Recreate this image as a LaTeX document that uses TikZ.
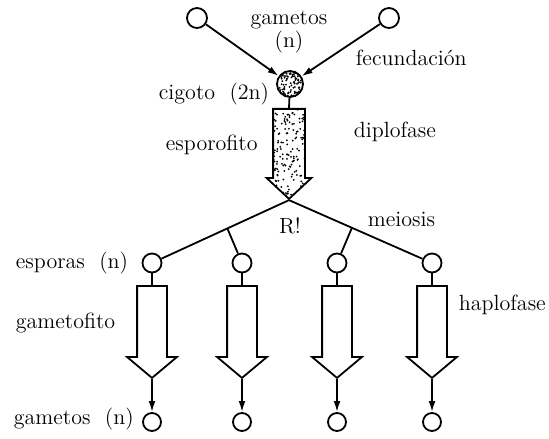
\documentclass[tikz,border=0pt]{standalone}
\usetikzlibrary{arrows.meta,shapes.arrows,calc}

\begin{document}
\begin{tikzpicture}[x=0.5pt,y=-0.5pt, line width=0.9pt,
    >={Latex[length=5.5pt,width=3.4pt]},
    txt/.style={font=\fontsize{11}{13}\selectfont, inner sep=0pt},
    cell/.style={draw, circle, fill=white, minimum size=9.5pt, inner sep=0pt},
    stipple/.style={path picture={
        \foreach \k in {1,...,#1}{
          \pgfmathsetmacro\rx{rnd}\pgfmathsetmacro\ry{rnd}
          \fill[black] let \p1=(path picture bounding box.south west),
                    \p2=(path picture bounding box.north east) in
            ({\x1+\rx*(\x2-\x1)},{\y1+\ry*(\y2-\y1)}) circle (0.5pt);
        }}},
    sporoarrow/.style={draw, fill=white, single arrow, shape border rotate=270, anchor=tail,
        inner sep=7.5pt, minimum height=45pt, single arrow head extend=3.25pt, single arrow tip angle=94},
    gametoarrow/.style={draw, fill=white, single arrow, shape border rotate=270, anchor=tail,
        inner sep=7pt, minimum height=46pt, single arrow head extend=5pt, single arrow tip angle=100}]
    \pgfmathsetseed{17}
    \useasboundingbox (0,0) rectangle (549,438);

    % diploid part
    \node[cell, minimum size=10pt] (gametoL) at (197,18) {};
    \node[cell, minimum size=10pt] (gametoR) at (389,18) {};
    \node[cell, minimum size=13pt, stipple=130] (zygote) at (290,84) {};
    \node[sporoarrow, stipple=210] (sporo) at (289,108) {};

    \draw[->] (gametoL) -- (zygote);
    \draw[->] (gametoR) -- (zygote);
    \draw (zygote) -- (sporo.tail);

    % spores
    \node[cell] (spore1) at (152,263) {};
    \node[cell] (spore2) at (242,263) {};
    \node[cell] (spore3) at (337,263) {};
    \node[cell] (spore4) at (432,263) {};

    \coordinate (fork2) at ($(sporo.tip)!0.45!(spore1.center)$);
    \coordinate (fork3) at ($(sporo.tip)!0.44!(spore4.center)$);
    \draw (sporo.tip) -- (spore1);
    \draw (sporo.tip) -- (spore4);
    \draw (fork2) -- (spore2);
    \draw (fork3) -- (spore3);

    % haploid part
    \node[gametoarrow] (gameto1) at (152,285) {};
    \node[gametoarrow] (gameto2) at (242,285) {};
    \node[gametoarrow] (gameto3) at (337,285) {};
    \node[gametoarrow] (gameto4) at (432,285) {};

    \node[cell, minimum size=9pt] (gamete1) at (152,422) {};
    \node[cell, minimum size=9pt] (gamete2) at (242,422) {};
    \node[cell, minimum size=9pt] (gamete3) at (337,422) {};
    \node[cell, minimum size=9pt] (gamete4) at (432,422) {};

    \draw (spore1) -- (gameto1.tail);
    \draw (spore2) -- (gameto2.tail);
    \draw (spore3) -- (gameto3.tail);
    \draw (spore4) -- (gameto4.tail);
    \draw[->] (gameto1.tip) -- (gamete1);
    \draw[->] (gameto2.tip) -- (gamete2);
    \draw[->] (gameto3.tip) -- (gamete3);
    \draw[->] (gameto4.tip) -- (gamete4);

    % labels
    \node[txt, align=center] (lgam) at (289,32) {gametos\\[-2pt](n)};
    \node[txt, anchor=west] (lfec) at (355,58) {fecundación};
    \node[txt, anchor=west] (lcig) at (158,94) {cigoto~~(2n)};
    \node[txt, anchor=west] (ldip) at (353,132) {diplofase};
    \node[txt, anchor=west] (lspo) at (165,145) {esporofito};
    \node[txt] (lr) at (290,226) {R!};
    \node[txt, anchor=west] (lmei) at (367,219) {meiosis};
    \node[txt, anchor=west] (lesp) at (15,263) {esporas~~(n)};
    \node[txt, anchor=west] (lgmf) at (15,323) {gametofito};
    \node[txt, anchor=west] (lhap) at (458,305) {haplofase};
    \node[txt, anchor=west] (lgmb) at (13,419) {gametos~~(n)};
\end{tikzpicture}
\end{document}
